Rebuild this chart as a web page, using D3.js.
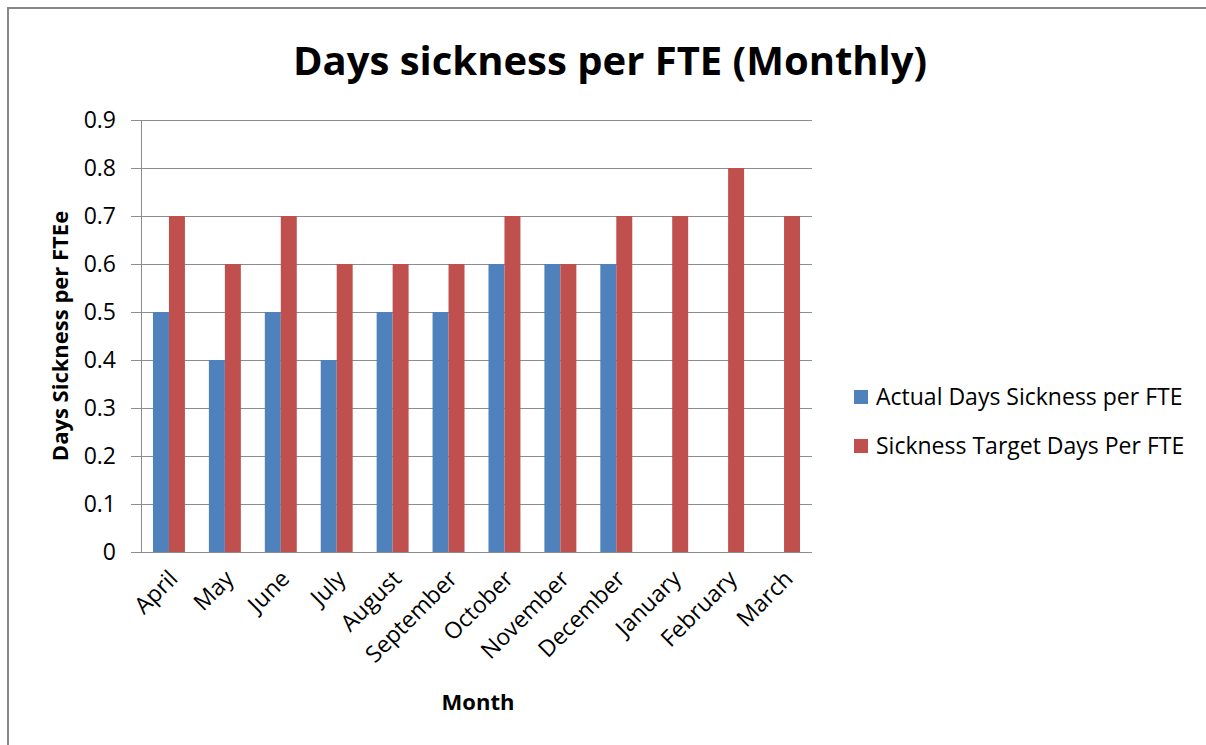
<html>
<head>
  <script src="https://d3js.org/d3.v7.min.js"></script>
  <style>
    body { margin: 0; background: #fff; }
    text { font-family: "Open Sans", "Noto Sans", sans-serif; fill: #000; }
  </style>
</head>
<body>
  <div id="plot"></div>
  <script>

    // data
    var months = ["April", "May", "June", "July", "August", "September",
                  "October", "November", "December", "January", "February", "March"];
    var actual = [0.5, 0.4, 0.5, 0.4, 0.5, 0.5, 0.6, 0.6, 0.6, null, null, null];
    var target = [0.7, 0.6, 0.7, 0.6, 0.6, 0.6, 0.7, 0.6, 0.7, 0.7, 0.8, 0.7];
    var yTicks = [0, 0.1, 0.2, 0.3, 0.4, 0.5, 0.6, 0.7, 0.8, 0.9];
    var seriesNames = ["Actual Days Sickness per FTE", "Sickness Target Days Per FTE"];
    var colors = ["#4F81BD", "#C0504D"];

    var W = 1206, H = 745;
    var plot = {left: 141, top: 120, right: 812, bottom: 552};

    var svg = d3.select("#plot").append("svg")
      .attr("width", W)
      .attr("height", H);

    // outer chart frame (only left and top visible in the crop)
    svg.append("rect")
      .attr("x", 8).attr("y", 8)
      .attr("width", W + 20).attr("height", H + 20)
      .attr("fill", "none")
      .attr("stroke", "#878787")
      .attr("stroke-width", 2);

    var x = d3.scaleBand()
      .domain(months)
      .range([plot.left, plot.right]);

    var y = d3.scaleLinear()
      .domain([0, 0.9])
      .range([plot.bottom, plot.top]);

    // excel style: gap width 150%
    var barW = x.bandwidth() / 3.5;

    // gridlines
    svg.append("g")
      .selectAll("line")
      .data(yTicks.slice(1))
      .enter().append("line")
      .attr("x1", plot.left).attr("x2", plot.right)
      .attr("y1", function(d) { return Math.round(y(d)) + 0.5; })
      .attr("y2", function(d) { return Math.round(y(d)) + 0.5; })
      .attr("stroke", "#8c8c8c")
      .attr("stroke-width", 1);

    // y axis
    var yAxis = d3.axisLeft(y)
      .tickValues(yTicks)
      .tickSize(10)
      .tickPadding(15)
      .tickFormat(function(d) { return d === 0 ? "0" : d3.format(".1f")(d); });

    var gy = svg.append("g")
      .attr("class", "y axis")
      .attr("transform", "translate(" + plot.left + ",0)")
      .call(yAxis);
    gy.select(".domain").attr("stroke", "#8c8c8c").attr("d", "M0.5," + plot.top + "V" + plot.bottom);
    gy.selectAll(".tick line").attr("stroke", "#8c8c8c");
    gy.selectAll("text")
      .style("font-family", "'Open Sans', sans-serif")
      .style("font-size", "23px")
      .attr("fill", "#000");

    // bars
    var groups = svg.append("g")
      .selectAll("g")
      .data(months)
      .enter().append("g")
      .attr("transform", function(d) { return "translate(" + x(d) + ",0)"; });

    groups.append("rect")
      .filter(function(d, i) { return actual[i] !== null; })
      .attr("x", barW * 0.75)
      .attr("y", function(d) { return y(actual[months.indexOf(d)]); })
      .attr("width", barW)
      .attr("height", function(d) { return plot.bottom - y(actual[months.indexOf(d)]); })
      .attr("fill", colors[0]);

    groups.append("rect")
      .attr("x", barW * 1.75)
      .attr("y", function(d, i) { return y(target[i]); })
      .attr("width", barW)
      .attr("height", function(d, i) { return plot.bottom - y(target[i]); })
      .attr("fill", colors[1]);

    // x axis line
    svg.append("line")
      .attr("x1", plot.left - 10).attr("x2", plot.right)
      .attr("y1", plot.bottom + 0.5).attr("y2", plot.bottom + 0.5)
      .attr("stroke", "#8c8c8c");

    // month labels, rotated
    svg.append("g")
      .selectAll("text")
      .data(months)
      .enter().append("text")
      .attr("transform", function(d) {
        return "translate(" + (x(d) + x.bandwidth() / 2 - 2) + "," + (plot.bottom + 16) + ") rotate(-45)";
      })
      .attr("dy", "0.75em")
      .style("text-anchor", "end")
      .style("font-size", "23px")
      .text(function(d) { return d; });

    // title
    svg.append("text")
      .attr("x", 610)
      .attr("y", 75)
      .style("text-anchor", "middle")
      .style("font-weight", "bold")
      .style("font-size", "40px")
      .text("Days sickness per FTE (Monthly)");

    // axis titles
    svg.append("text")
      .attr("transform", "translate(68,336) rotate(-90)")
      .style("text-anchor", "middle")
      .style("font-weight", "bold")
      .style("font-size", "22px")
      .text("Days Sickness per FTEe");

    svg.append("text")
      .attr("x", 478)
      .attr("y", 710)
      .style("text-anchor", "middle")
      .style("font-weight", "bold")
      .style("font-size", "22px")
      .text("Month");

    // legend
    var legend = svg.append("g")
      .selectAll("g")
      .data(seriesNames)
      .enter().append("g")
      .attr("transform", function(d, i) { return "translate(854," + (397 + i * 49) + ")"; });

    legend.append("rect")
      .attr("x", 0).attr("y", -7)
      .attr("width", 14).attr("height", 14)
      .attr("fill", function(d, i) { return colors[i]; });

    legend.append("text")
      .attr("x", 22)
      .attr("y", 0)
      .attr("dy", "0.35em")
      .style("font-size", "23px")
      .attr("fill", "#222")
      .text(function(d) { return d; });

  </script>
</body>
</html>
